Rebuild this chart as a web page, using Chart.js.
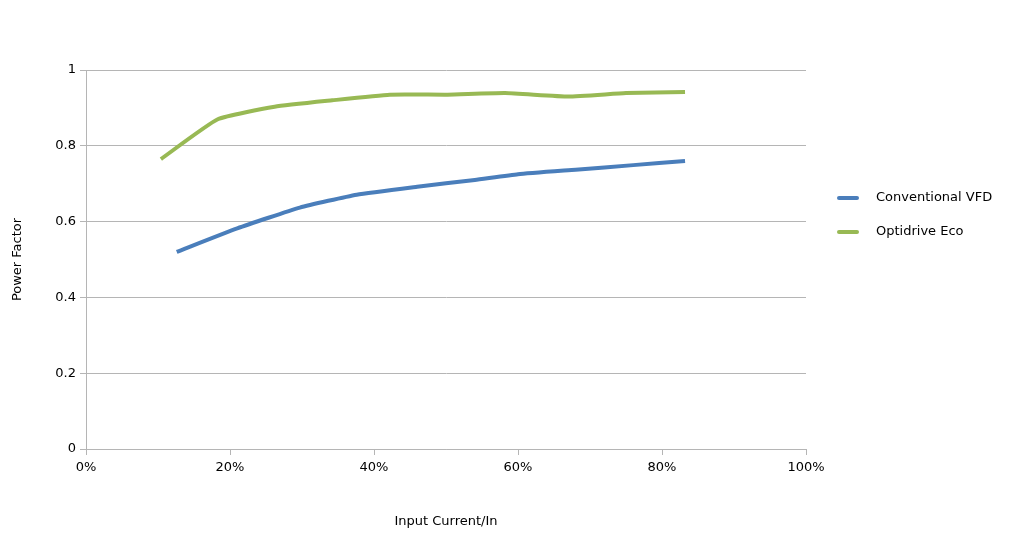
<!DOCTYPE html>
<html>
<head>
<meta charset="utf-8">
<script src="https://cdn.jsdelivr.net/npm/chart.js@4"></script>
<style>
  body { margin: 0; background: #fff; }
</style>
</head>
<body>
<canvas id="pf" width="1012" height="535"></canvas>
<script>
// Power factor vs input current ---------------------------------------------
const seriesNames = ["Conventional VFD", "Optidrive Eco"];
const seriesColors = ["#4a7ebb", "#98b954"];

const vfdCurrent = [12.6, 21, 29.7, 37.6, 46, 54, 60, 68, 76, 83.2];
const vfdPF = [0.52, 0.582, 0.637, 0.671, 0.692, 0.71, 0.725, 0.737, 0.749, 0.76];

const ecoCurrent = [10.4, 18.3, 26.2, 34.2, 42.2, 50.2, 58.2, 67, 75, 83.2];
const ecoPF = [0.765, 0.87, 0.903, 0.92, 0.935, 0.935, 0.939, 0.93, 0.939, 0.942];

const xTicks = [0, 20, 40, 60, 80, 100];
const yTicks = [0, 0.2, 0.4, 0.6, 0.8, 1];

const toPoints = (xs, ys) => xs.map((x, i) => ({ x: x, y: ys[i] }));

const font = { family: "DejaVu Sans", size: 13 };
const gridColor = "#b5b5b5";

// legend drawn by hand so it sits where the original one does
const sideLegend = {
  id: "sideLegend",
  afterDraw(chart) {
    const c = chart.ctx;
    c.save();
    c.font = "13px DejaVu Sans";
    c.textBaseline = "middle";
    chart.data.datasets.forEach((ds, i) => {
      const y = 198 + i * 34;
      c.strokeStyle = ds.borderColor;
      c.lineWidth = 4;
      c.lineCap = "round";
      c.beginPath();
      c.moveTo(839, y);
      c.lineTo(857, y);
      c.stroke();
      c.fillStyle = "#000";
      c.fillText(ds.label, 876, y);
    });
    c.restore();
  },
};

new Chart(document.getElementById("pf"), {
  type: "line",
  data: {
    datasets: [
      {
        label: seriesNames[0],
        data: toPoints(vfdCurrent, vfdPF),
        borderColor: seriesColors[0],
        backgroundColor: seriesColors[0],
        borderWidth: 4,
        pointRadius: 0,
        tension: 0.15,
        fill: false,
      },
      {
        label: seriesNames[1],
        data: toPoints(ecoCurrent, ecoPF),
        borderColor: seriesColors[1],
        backgroundColor: seriesColors[1],
        borderWidth: 4,
        pointRadius: 0,
        tension: 0.15,
        fill: false,
      },
    ],
  },
  options: {
    responsive: false,
    animation: false,
    layout: { padding: { left: 0, top: 70, right: 206, bottom: 0 } },
    scales: {
      x: {
        type: "linear",
        min: 0,
        max: 100,
        afterBuildTicks: (s) => { s.ticks = xTicks.map((v) => ({ value: v })); },
        afterFit: (s) => { s.height = 86; },
        ticks: {
          callback: (v) => v + "%",
          color: "#000",
          font: font,
          padding: 5,
          maxRotation: 0,
        },
        grid: { drawOnChartArea: false, color: gridColor, tickLength: 6 },
        border: { color: gridColor, width: 1 },
        title: {
          display: true,
          text: "Input Current/In",
          color: "#000",
          font: font,
          padding: { top: 4, bottom: 6 },
        },
      },
      y: {
        min: 0,
        max: 1,
        afterBuildTicks: (s) => { s.ticks = yTicks.map((v) => ({ value: v })); },
        afterFit: (s) => { s.width = 86; },
        ticks: {
          callback: (v) => String(Math.round(v * 10) / 10),
          color: "#000",
          font: font,
          padding: 4,
        },
        grid: { color: gridColor, tickLength: 6 },
        border: { color: gridColor, width: 1 },
        title: {
          display: true,
          text: "Power Factor",
          color: "#000",
          font: font,
          padding: { top: 10, bottom: 4 },
        },
      },
    },
    plugins: {
      legend: { display: false },
      tooltip: { enabled: false },
    },
  },
  plugins: [sideLegend],
});
</script>
</body>
</html>
